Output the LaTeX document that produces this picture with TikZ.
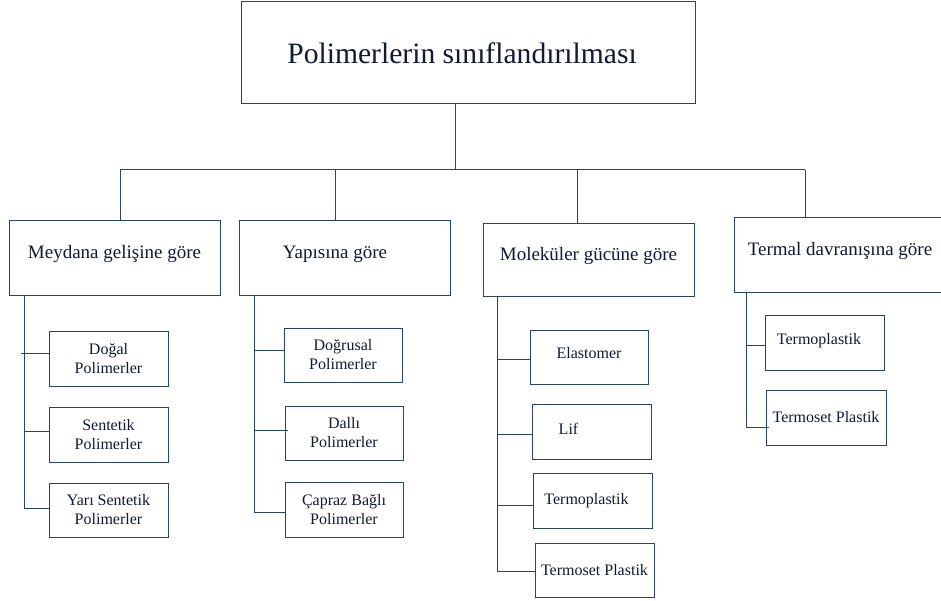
\documentclass[tikz,border=0pt]{standalone}
\usepackage{fontspec}
\setmainfont{Liberation Serif}
\usetikzlibrary{calc}
\definecolor{linecol}{RGB}{38,68,108}
\definecolor{txtcol}{RGB}{18,26,48}
\begin{document}
\begin{tikzpicture}[x=1pt,y=-1pt,
  box/.style={draw=linecol,line width=1pt,fill=white,inner sep=0pt,outer sep=0pt,anchor=north west,text=txtcol,align=center},
  topbox/.style={box,font=\fontsize{29.6}{34}\selectfont},
  catbox/.style={box,font=\fontsize{19}{23}\selectfont,text depth=12pt},
  leafbox/.style={box,font=\fontsize{16}{19}\selectfont},
  conn/.style={draw=linecol,line width=1pt}]
\useasboundingbox (0,0) rectangle (941,601);
% top
\node[topbox,minimum width=454pt,minimum height=102pt] (top) at (241,2) {Polimerlerin sınıflandırılması\hspace*{12pt}};
% categories
\node[catbox,minimum width=211pt,minimum height=74pt] (m1) at (9,221) {Meydana gelişine göre};
\node[catbox,minimum width=211pt,minimum height=74pt] (m2) at (239,221) {Yapısına göre\hspace*{19pt}};
\node[catbox,minimum width=211pt,minimum height=72pt] (m3) at (483,224) {Moleküler gücüne göre};
\node[catbox,minimum width=212pt,minimum height=74pt] (m4) at (734,218) {Termal davranışına göre};
% leaves column 1
\node[leafbox,minimum width=119pt,minimum height=55pt] (a1) at (49,331) {Doğal\\Polimerler};
\node[leafbox,minimum width=119pt,minimum height=55pt] (a2) at (49,407) {Sentetik\\Polimerler};
\node[leafbox,minimum width=119pt,minimum height=54pt] (a3) at (49,483) {Yarı Sentetik\\Polimerler};
% leaves column 2
\node[leafbox,minimum width=118pt,minimum height=54pt] (b1) at (284,328) {Doğrusal\\Polimerler};
\node[leafbox,minimum width=118pt,minimum height=54pt] (b2) at (285,406) {Dallı\\Polimerler};
\node[leafbox,minimum width=118pt,minimum height=55pt] (b3) at (285,482) {Çapraz Bağlı\\Polimerler};
% leaves column 3
\node[leafbox,minimum width=118pt,minimum height=54pt,text depth=8pt] (c1) at (530,330) {Elastomer};
\node[leafbox,minimum width=119pt,minimum height=55pt,text depth=6pt] (c2) at (532,404) {Lif\hspace*{46pt}};
\node[leafbox,minimum width=119pt,minimum height=55pt] (c3) at (533,473) {Termoplastik\hspace*{12pt}};
\node[leafbox,minimum width=119pt,minimum height=54pt] (c4) at (535,543) {Termoset Plastik};
% leaves column 4
\node[leafbox,minimum width=119pt,minimum height=55pt,text depth=8pt] (d1) at (765,315) {Termoplastik\hspace*{11pt}};
\node[leafbox,minimum width=120pt,minimum height=55pt] (d2) at (766,390) {Termoset Plastik};
% bus
\coordinate (j0) at (455,170);
\coordinate (j1) at (120,170);
\coordinate (j2) at (335,170);
\coordinate (j3) at (577,170);
\coordinate (j4) at (805,170);
\draw[conn] (j0 |- top.south) -- (j0);
\draw[conn] (j1) -- (j4);
\draw[conn] (j1) -- (j1 |- m1.north);
\draw[conn] (j2) -- (j2 |- m2.north);
\draw[conn] (j3) -- (j3 |- m3.north);
\draw[conn] (j4) -- (j4 |- m4.north);
% column 1
\coordinate (s1) at (24,0);
\draw[conn] (s1 |- m1.south) -- ($(s1 |- a3.west)+(0,-2)$);
\draw[conn] ($(a1.west)+(-28,-5)$) -- ($(a1.west)+(0,-5)$);
\draw[conn] ($(s1 |- a2.west)+(0,-3)$) -- ($(a2.west)+(0,-3)$);
\draw[conn] ($(s1 |- a3.west)+(0,-2)$) -- ($(a3.west)+(0,-2)$);
% column 2
\coordinate (s2) at (254,0);
\draw[conn] (s2 |- m2.south) -- ($(s2 |- b3.west)+(0,3)$);
\draw[conn] ($(s2 |- b1.west)+(0,-5)$) -- ($(b1.west)+(0,-5)$);
\draw[conn] ($(s2 |- b2.west)+(0,-3)$) -- ($(b2.west)+(3,-3)$);
\draw[conn] ($(s2 |- b3.west)+(0,3)$) -- ($(b3.west)+(0,3)$);
% column 3
\coordinate (s3) at (497,0);
\draw[conn] (s3 |- m3.south) -- ($(s3 |- c4.west)+(0,1)$);
\draw[conn] ($(s3 |- c1.west)+(0,2)$) -- ($(c1.west)+(0,2)$);
\draw[conn] ($(s3 |- c2.west)+(0,3)$) -- ($(c2.west)+(1,3)$);
\draw[conn] ($(s3 |- c3.west)+(0,5)$) -- ($(c3.west)+(0,5)$);
\draw[conn] ($(s3 |- c4.west)+(0,1)$) -- ($(c4.west)+(0,1)$);
% column 4
\coordinate (s4) at (746,0);
\draw[conn] (s4 |- m4.south) -- ($(s4 |- d2.west)+(0,10)$);
\draw[conn] ($(s4 |- d1.west)+(0,3)$) -- ($(d1.west)+(0,3)$);
\draw[conn] ($(s4 |- d2.west)+(0,10)$) -- ($(d2.west)+(3,10)$);
\end{tikzpicture}
\end{document}
